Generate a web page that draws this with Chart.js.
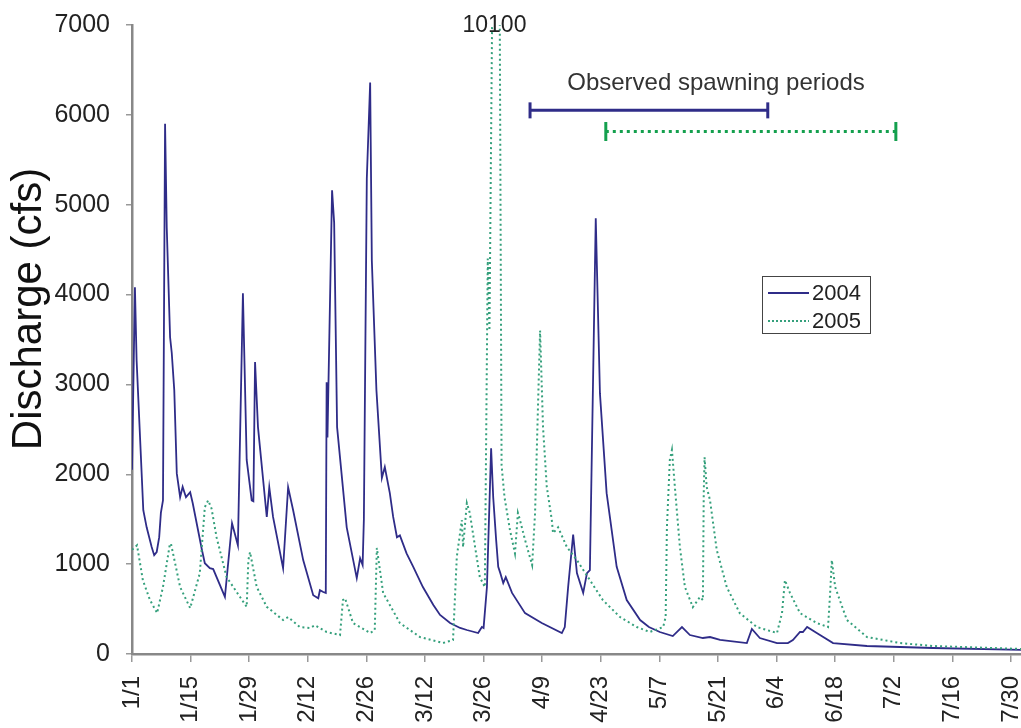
<!DOCTYPE html>
<html>
<head>
<meta charset="utf-8">
<script src="https://cdn.jsdelivr.net/npm/chart.js@4/dist/chart.umd.min.js"></script>
<style>
  html, body { margin: 0; padding: 0; background: #fff; }
</style>
</head>
<body>
<canvas id="c" width="1021" height="728"></canvas>
<script>
// ---- Data (x = day index from 1/1, y = discharge in cfs) ----
const tickLabels = ['1/1','1/15','1/29','2/12','2/26','3/12','3/26','4/9','4/23','5/7','5/21','6/4','6/18','7/2','7/16','7/30'];
const tickStepDays = 14;
const yTitle = 'Discharge (cfs)';

const days2004 = [0,0.7,1.1,2.7,3.5,4.7,5.3,5.9,6.5,6.9,7.4,7.9,8.3,9.1,9.5,10.1,10.7,11.5,12.1,12.9,13.9,14.5,16.7,17.4,18.6,19.4,22.2,23.9,25.3,26.5,27.4,28.6,29.0,29.4,30.1,32.2,32.8,33.7,36.1,37.3,38.5,40.9,43.3,44.5,44.9,45.7,46.3,46.5,46.7,47.8,48.3,49.0,51.3,53.7,54.5,55.1,55.4,56.1,56.9,57.3,58.4,59.7,60.4,61.6,62.4,63.3,64,65.6,67.2,69.5,72,73.6,76,78.4,80,82.7,83.6,84,84.8,85.8,86.3,87,87.5,88,88.7,89.3,90.8,93.9,97.9,102.7,103.4,104.2,105.4,106.3,107.8,108.7,109.4,110.8,111.8,113.4,115.8,118.2,121.4,123.5,126.1,129.2,131.4,133.3,136.4,138.1,140.5,146.9,148.1,150,154.1,156.7,157.9,159.6,160.3,161.3,163.6,167.5,175.6,191.4,212.4];
const flow2004 = [2050,4080,3270,1600,1410,1190,1100,1135,1300,1570,1710,5900,4750,3525,3350,2935,2010,1745,1860,1745,1800,1680,1160,1010,955,945,635,1455,1210,4015,2160,1710,1700,3250,2525,1525,1855,1525,955,1855,1600,1045,655,620,710,690,680,3025,2410,5160,4800,2525,1410,845,1065,990,1500,5290,6360,4380,2935,1960,2080,1790,1525,1300,1320,1120,970,745,545,434,345,290,267,233,300,290,745,2290,1745,1270,970,900,790,856,680,455,345,233,300,745,1330,900,680,900,934,4850,2900,1790,970,600,378,300,245,200,300,211,178,189,156,122,278,178,122,122,156,245,245,300,233,122,89,67,45];

const days2005 = [0,1.2,2.6,4.3,6,7.4,9,9.3,11.5,13.9,16.2,17.4,18.2,19,20.2,22.6,25.8,27.4,27.8,28.2,29.8,32.2,36.1,37.3,40.1,42.5,43.7,46.5,49.7,50.4,50.9,52.8,56.9,58,58.5,60,64,68.8,74.3,76.7,77.6,78.8,79.1,80,80.7,83.1,84.3,85.0,85.4,86.6,87.7,88.3,89,90.3,91.5,92.2,92.7,93.9,95.6,96.3,97.5,98.2,99.1,100.3,100.6,101.8,103.9,106.3,109.4,112.5,116.6,120.6,123.7,126.9,127.5,127.8,128.5,129,129.7,130.9,132.1,134,135.7,136.4,136.6,136.8,137.3,138.1,139.7,142.1,145.2,149.3,154.1,155.3,156,157.2,159.6,163.6,166.3,166.8,167.2,168,170.8,175.6,183.5,191.4,212.4];
const flow2005 = [1160,1210,820,600,455,745,1210,1230,745,510,900,1635,1710,1620,1300,856,635,525,1045,1135,745,525,378,411,300,290,320,245,211,600,620,345,233,267,1180,680,345,189,122,156,1080,1490,1190,1680,1570,856,745,4400,3600,10100,9000,2100,1745,1380,1120,1570,1490,1270,990,1570,3600,2525,1860,1490,1345,1410,1190,1045,822,600,411,300,245,300,411,1410,2160,2270,1860,1190,745,522,635,600,1790,2190,1860,1710,1160,745,455,300,233,455,822,680,455,345,300,680,1045,745,378,189,122,89,56];

// Observed spawning periods (start day, end day) and the level at which each bar is drawn
const spawn2004 = [95.1, 151.9];
const spawn2005 = [113.2, 182.5];
const spawnLevel2004 = 6050;
const spawnLevel2005 = 5815;
const peakLabel = '10100';
const peakDay = 86.6;

const toXY = (xs, ys) => xs.map((x, i) => ({ x: x, y: ys[i] }));

const navy = '#2f2c88';
const teal = '#35a07c';
const green = '#14a04e';

const overlay = {
  id: 'overlay',
  afterDraw(chart) {
    const ctx = chart.ctx;
    const xs = chart.scales.x;
    ctx.save();
    // y-axis title
    ctx.save();
    ctx.translate(41, 309);
    ctx.rotate(-Math.PI / 2);
    ctx.fillStyle = '#111';
    ctx.font = '42px "Liberation Sans", Arial, sans-serif';
    ctx.textAlign = 'center';
    ctx.textBaseline = 'alphabetic';
    ctx.fillText(yTitle, 0, 0);
    ctx.restore();
    // peak label
    ctx.fillStyle = '#222';
    ctx.font = '23px "Liberation Sans", Arial, sans-serif';
    ctx.textAlign = 'center';
    ctx.textBaseline = 'middle';
    ctx.fillText(peakLabel, xs.getPixelForValue(peakDay), 26);
    // spawning title
    ctx.fillStyle = '#333';
    ctx.font = '24px "Liberation Sans", Arial, sans-serif';
    ctx.fillText('Observed spawning periods', 716, 83);
    // legend
    ctx.strokeStyle = '#444';
    ctx.lineWidth = 1;
    ctx.strokeRect(762.5, 276.5, 108, 57);
    ctx.lineWidth = 2;
    ctx.strokeStyle = navy;
    ctx.beginPath(); ctx.moveTo(768, 293); ctx.lineTo(809, 293); ctx.stroke();
    ctx.strokeStyle = teal;
    ctx.setLineDash([2, 2]);
    ctx.beginPath(); ctx.moveTo(768, 321); ctx.lineTo(809, 321); ctx.stroke();
    ctx.setLineDash([]);
    ctx.fillStyle = '#222';
    ctx.font = '22px "Liberation Sans", Arial, sans-serif';
    ctx.textAlign = 'left';
    ctx.fillText('2004', 812, 294);
    ctx.fillText('2005', 812, 322);
    ctx.restore();
  }
};

new Chart(document.getElementById('c'), {
  type: 'line',
  data: {
    datasets: [
      {
        label: '2004',
        data: toXY(days2004, flow2004),
        borderColor: navy,
        borderWidth: 1.8,
        pointRadius: 0,
        tension: 0,
        order: 2
      },
      {
        label: '2005',
        data: toXY(days2005, flow2005),
        borderColor: teal,
        borderWidth: 2,
        borderDash: [2, 3],
        pointRadius: 0,
        tension: 0,
        order: 1
      },
      {
        label: 'spawn2004',
        data: spawn2004.map(d => ({ x: d, y: spawnLevel2004 })),
        borderColor: navy,
        borderWidth: 3,
        pointStyle: 'line',
        pointRotation: 90,
        pointRadius: 8,
        pointBorderWidth: 3,
        pointBorderColor: navy,
        pointBackgroundColor: navy,
        clip: false
      },
      {
        label: 'spawn2005',
        data: spawn2005.map(d => ({ x: d, y: spawnLevel2005 })),
        borderColor: green,
        borderWidth: 3,
        borderDash: [3, 4],
        pointStyle: 'line',
        pointRotation: 90,
        pointRadius: 9.5,
        pointBorderWidth: 3,
        pointBorderColor: green,
        pointBackgroundColor: green,
        clip: false
      }
    ]
  },
  options: {
    responsive: false,
    animation: false,
    events: [],
    layout: { autoPadding: false, padding: { top: 25, right: 0, bottom: 0, left: 0 } },
    plugins: {
      legend: { display: false },
      tooltip: { enabled: false }
    },
    scales: {
      x: {
        type: 'linear',
        min: 0,
        max: 212.4,
        afterBuildTicks(axis) {
          axis.ticks = tickLabels.map((l, i) => ({ value: i * tickStepDays }));
        },
        afterFit(axis) {
          axis.height = 74;
          axis.paddingLeft = 0;
          axis.paddingRight = 0;
        },
        ticks: {
          autoSkip: false,
          minRotation: 90,
          maxRotation: 90,
          padding: 14,
          color: '#222',
          font: { family: '"Liberation Sans", Arial, sans-serif', size: 24 },
          callback: (v) => tickLabels[Math.round(v / tickStepDays)]
        },
        grid: { drawOnChartArea: false, drawTicks: true, tickLength: 8, color: '#999', lineWidth: 1.5 },
        border: { display: true, color: '#888', width: 2.5 }
      },
      y: {
        min: 0,
        max: 7000,
        afterFit(axis) {
          axis.width = 132;
          axis.paddingTop = 0;
          axis.paddingBottom = 0;
        },
        ticks: {
          stepSize: 1000,
          padding: 16,
          color: '#222',
          font: { family: '"Liberation Sans", Arial, sans-serif', size: 25 },
          callback: (v) => String(v)
        },
        grid: { drawOnChartArea: false, drawTicks: true, tickLength: 6, color: '#999', lineWidth: 1.5 },
        border: { display: true, color: '#888', width: 2.5 },
        title: { display: false }
      }
    }
  },
  plugins: [overlay]
});
</script>
</body>
</html>
